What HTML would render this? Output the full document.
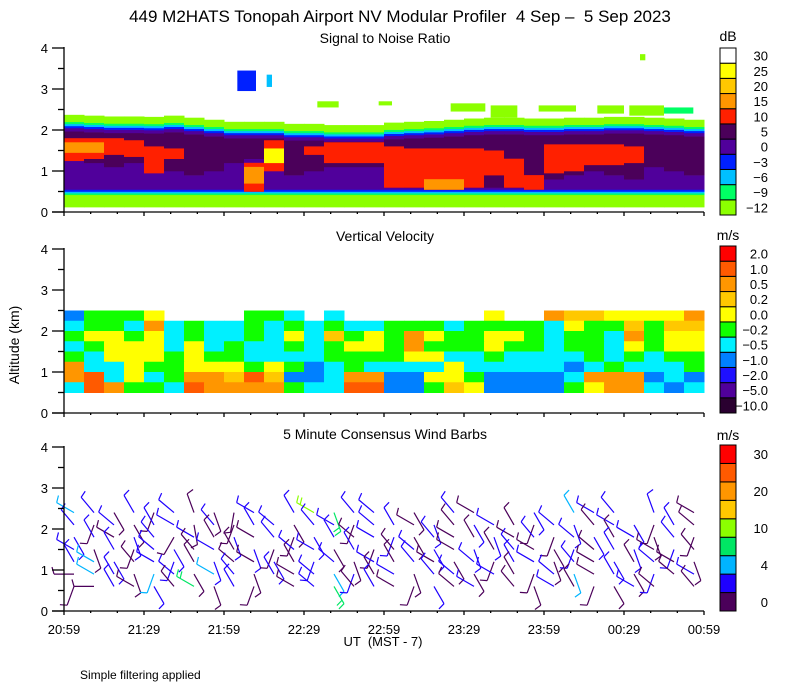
<!DOCTYPE html>
<html><head><meta charset="utf-8"><style>
html,body{margin:0;padding:0;background:#fff;width:800px;height:700px;overflow:hidden}
svg{display:block;font-family:"Liberation Sans",sans-serif}
</style></head><body>
<svg id="chart" width="800" height="700" viewBox="0 0 800 700">
<text x="400" y="22" text-anchor="middle" font-size="17" xml:space="preserve" style="white-space:pre">449 M2HATS Tonopah Airport NV Modular Profiler  4 Sep –  5 Sep 2023</text>
<text x="385" y="43" text-anchor="middle" font-size="14">Signal to Noise Ratio</text>
<text x="385" y="241" text-anchor="middle" font-size="14">Vertical Velocity</text>
<text x="385" y="439" text-anchor="middle" font-size="14">5 Minute Consensus Wind Barbs</text>
<text x="728" y="41" text-anchor="middle" font-size="14">dB</text>
<text x="728" y="240" text-anchor="middle" font-size="14">m/s</text>
<text x="728" y="440" text-anchor="middle" font-size="14">m/s</text>
<text transform="translate(19,345) rotate(-90)" text-anchor="middle" font-size="14">Altitude (km)</text>
<text x="383" y="646" text-anchor="middle" font-size="13" xml:space="preserve" style="white-space:pre">UT  (MST - 7)</text>
<text x="80" y="679" font-size="12">Simple filtering applied</text>
<g id="g"></g>
</svg>
<script>
// ---- data ----
const timeLabels=["20:59","21:29","21:59","22:29","22:59","23:29","23:59","00:29","00:59"];
const snrLevels=[-12,-9,-6,-3,0,5,10,15,20,25,30];
const snrColors=["#8cff00","#00ff64","#00c0ff","#0020ff","#50009b","#4b005a","#ff2000","#ff9600","#ffc800","#ffff00","#ffffff"];
const vvLevels=[-10,-5,-2,-1,-0.5,-0.2,0,0.2,0.5,1,2];
const vvLabels=["-10.0","-5.0","-2.0","-1.0","-0.5","-0.2","0.0","0.2","0.5","1.0","2.0"];
const vvColors=["#2a0030","#50009b","#1e10ff","#0080ff","#00f0ff","#10ff00","#ffff00","#ffc800","#ff9600","#ff5a00","#ff0000"];
const wsLevels=[0,2.5,4,7,10,14,20,25,30];
const wsColors=["#4b005a","#1e00ff","#00b4ff","#00e664","#8cff00","#ffc800","#ff9600","#ff5a00","#ff0000"];
// SNR per 7.5-min column
const snrEchoTop=[2.37,2.35,2.33,2.33,2.32,2.35,2.3,2.25,2.2,2.2,2.2,2.15,2.15,2.12,2.12,2.12,2.18,2.2,2.22,2.25,2.28,2.3,2.3,2.28,2.28,2.3,2.3,2.32,2.32,2.3,2.28,2.25];
const snrLowTop=[1.3,1.2,1.1,1.2,1.2,1.0,0.9,1.0,1.2,1.3,1.1,0.9,1.0,1.1,1.1,1.1,0.7,0.6,0.6,0.6,0.7,0.6,0.6,0.7,0.8,0.9,1.0,0.9,0.8,1.1,1.0,0.9];
const snrRedBot=[1.25,1.3,1.4,1.35,0.95,1.3,null,null,null,0.5,1.0,null,1.4,1.2,1.2,1.2,0.6,0.6,0.55,0.55,0.6,0.9,0.6,0.55,0.95,1.0,1.15,1.15,1.2,null,null,null];
const snrRedTop=[1.8,1.8,1.8,1.75,1.6,1.55,null,null,null,1.2,1.75,null,1.6,1.7,1.7,1.7,1.6,1.55,1.55,1.55,1.55,1.5,1.3,0.9,1.65,1.65,1.65,1.65,1.6,null,null,null];
const snrHotBot=[1.45,1.45,null,null,null,null,null,null,null,0.7,1.2,null,null,null,null,null,null,null,0.55,0.55,null,null,null,null,null,null,null,null,null,null,null,null];
const snrHotTop=[1.7,1.7,null,null,null,null,null,null,null,1.1,1.55,null,null,null,null,null,null,null,0.8,0.8,null,null,null,null,null,null,null,null,null,null,null,null];
const snrHotVal=[15,15,null,null,null,null,null,null,null,15,25,null,null,null,null,null,null,null,15,15,null,null,null,null,null,null,null,null,null,null,null,null];
// extra cloud patches: start min, end min, bottom km, top km, dB
const patchT0=[65,76,95,118,145,160,178,200,212,225,216];
const patchT1=[72,78,103,123,158,170,192,210,225,236,218];
const patchH0=[2.95,3.05,2.55,2.6,2.45,2.3,2.45,2.4,2.35,2.4,3.7];
const patchH1=[3.45,3.35,2.7,2.7,2.65,2.6,2.6,2.6,2.6,2.55,3.85];
const patchV=[-3,-6,-12,-12,-12,-12,-12,-12,-12,-9,-12];
// Vertical velocity grid: rows top (2.25-2.5 km) to bottom (0.5-0.75 km), 32 columns
const vvRow0=[-1,-0.2,-0.2,-0.2,0,null,null,null,null,-0.2,-0.2,-0.5,null,-0.5,null,null,null,null,null,null,null,0,null,null,0.5,0.2,0.2,0,0,0,0,0.5];
const vvRow1=[-0.5,-0.2,-0.2,-0.5,0.5,-0.5,-0.2,-0.5,-0.5,-0.2,-0.5,-0.2,-0.5,-0.2,-0.5,-0.5,-0.2,-0.2,-0.2,-0.5,-0.2,-0.2,-0.2,-0.2,-0.5,0,-0.2,-0.2,0.2,-0.2,0.2,0.2];
const vvRow2=[-0.2,0,0,-0.2,0,-0.5,-0.2,-0.5,-0.5,-0.2,-0.5,0,-0.5,0.2,-0.2,0,-0.2,0.5,0,-0.2,-0.2,0,0,-0.2,-0.5,-0.2,-0.2,-0.5,0.5,-0.2,0,0];
const vvRow3=[-0.5,-0.2,0,0,0,-0.5,0,-0.5,-0.2,-0.5,-0.5,-0.2,-0.5,-0.2,0,0,-0.2,0.5,-0.2,-0.2,-0.2,0,-0.2,-0.2,-0.5,-0.2,-0.2,-0.5,0,-0.2,0,0];
const vvRow4=[-0.2,-0.5,0,0,0,-0.2,0,-0.2,-0.2,-0.5,-0.5,-0.5,-0.5,-0.2,-0.2,-0.2,-0.2,0,0,-0.5,-0.5,-0.2,-0.5,-0.5,-0.5,-0.5,-0.2,-0.5,-0.2,-0.5,-0.2,-0.2];
const vvRow5=[0.5,-0.5,-0.5,0,-0.2,-0.2,0,0,0,-0.2,0,-0.2,-1,-0.5,-0.2,-0.5,-0.5,-0.5,-0.5,0,-0.5,-0.5,-0.5,-0.5,-0.5,-1,-0.5,-0.2,-0.5,-0.5,-0.5,-0.2];
const vvRow6=[0.5,1,-0.5,0,-0.5,-0.2,0.5,0.5,0.2,1,0.2,-1,-1,-0.5,0.5,0.5,-1,-1,0,0,-0.2,-1,-1,-1,-1,-0.5,0.5,0.5,0.5,-1,-0.5,-1];
const vvRow7=[-0.5,1,0.5,-0.2,-0.2,-0.5,1,0.5,0.5,0.5,0.5,-0.2,-0.5,-0.5,1,1,-1,-1,-0.2,0.2,0,-1,-1,-1,-1,-0.2,0,0.5,0.5,-0.5,-1,-0.5];
const vvRows=[vvRow0,vvRow1,vvRow2,vvRow3,vvRow4,vvRow5,vvRow6,vvRow7];
// Wind barbs: heights (km), direction (deg from) and speed per 7.5-min column
const windHeights=[2.4,2.1,1.8,1.5,1.2,0.9,0.6];
const wdir0=[300,320,150,330,200,310,340,160,190,300,null,330,300,160,320,310,null,150,null,320,300,null,null,150,null,330,300,320,null,340,null,300];
const wdir1=[320,200,310,150,330,300,170,320,200,330,310,150,320,300,200,310,330,300,160,320,150,300,330,200,310,160,320,300,150,200,330,310];
const wdir2=[150,330,300,160,320,210,300,330,160,300,320,200,150,330,310,300,200,150,320,300,330,160,300,320,200,310,150,330,300,160,320,200];
const wdir3=[300,160,330,200,310,150,320,300,330,160,200,310,300,150,330,200,320,310,150,300,160,330,320,300,150,200,310,330,160,300,200,320];
const wdir4=[330,300,150,320,300,200,330,160,310,300,150,330,200,310,160,300,330,320,300,150,310,200,330,300,160,320,300,150,330,310,300,160];
const wdir5=[270,300,330,160,200,310,150,300,320,160,330,300,310,150,200,330,300,160,320,310,150,300,330,200,310,160,300,330,150,200,310,300];
const wdir6=[200,270,330,300,150,320,300,160,330,200,null,300,310,150,320,330,300,200,150,310,300,null,320,160,300,330,200,150,300,310,null,320];
const wspd0=[5,3,2,3,2,3,2,2,2,3,null,3,11,9,3,3,null,2,null,3,2,null,null,3,null,6,3,3,null,3,null,2];
const wspd1=[3,2,3,2,3,3,2,3,2,3,3,2,3,3,2,3,3,2,3,2,3,3,2,2,3,3,2,3,3,2,3,2];
const wspd2=[3,3,2,3,3,2,3,2,3,2,3,2,3,3,2,3,3,2,3,2,2,3,2,3,2,3,3,2,3,2,3,2];
const wspd3=[3,2,3,2,3,3,2,3,2,3,2,3,3,2,3,2,2,3,3,2,3,2,3,2,2,3,2,3,3,2,3,2];
const wspd4=[3,5,3,2,3,3,2,3,2,2,3,2,3,3,2,3,2,3,2,2,3,2,3,3,2,3,2,3,2,3,2,2];
const wspd5=[2,5,3,2,5,3,2,6,3,2,3,2,3,5,3,2,3,2,3,3,2,3,2,2,3,5,2,3,2,3,2,3];
const wspd6=[2,2,3,2,3,2,9,2,3,2,null,2,3,7,2,3,2,2,3,2,3,null,2,2,3,2,2,2,3,2,null,2];
const wdirs=[wdir0,wdir1,wdir2,wdir3,wdir4,wdir5,wdir6];
const wspds=[wspd0,wspd1,wspd2,wspd3,wspd4,wspd5,wspd6];

// ---- layout ----
const X0=64,X1=704,TOT=240;
const panels=[{name:'snr',y0:212},{name:'vv',y0:413},{name:'wind',y0:611}];
const KM=41;
const xs=m=>X0+m*(X1-X0)/TOT;
const colW=7.5;
const g=document.getElementById('g');
const NS='http://www.w3.org/2000/svg';
function mk(tag,attrs,parent){const e=document.createElementNS(NS,tag);for(const k in attrs)e.setAttribute(k,attrs[k]);(parent||g).appendChild(e);return e;}
function cls(levels,v){let i=0;for(let k=0;k<levels.length;k++)if(v>=levels[k])i=k;return i;}

// SNR panel
const snrY=h=>212-h*KM;
const gs=mk('g',{});


function band(parent,c,h0,h1,color,name){if(h1<=h0)return;const r=mk('rect',{x:xs(c*colW),y:snrY(h1),width:xs((c+1)*colW)-xs(c*colW)+0.5,height:(h1-h0)*KM+0.3,fill:color},parent);}
for(let c=0;c<32;c++){
  const top=snrEchoTop[c],off=top-2.35;
  const layers=[[0.12,0.42,-12],[0.42,0.46,-9],[0.46,0.5,-6],[0.5,0.55,-3],[0.55,snrLowTop[c],0],[snrLowTop[c],1.95+off,5],[1.95+off,2.03+off,0],[2.03+off,2.08+off,-3],[2.08+off,2.13+off,-6],[2.13+off,2.18+off,-9],[2.18+off,top,-12]];
  layers.forEach(l=>band(gs,c,l[0],l[1],snrColors[cls(snrLevels,l[2])],'snr-layer'));
  if(snrRedBot[c]!=null)band(gs,c,snrRedBot[c],snrRedTop[c],snrColors[cls(snrLevels,10)],'snr-echo-layer');
  if(snrHotBot[c]!=null)band(gs,c,snrHotBot[c],snrHotTop[c],snrColors[cls(snrLevels,snrHotVal[c])],'snr-echo-core');
}
for(let i=0;i<patchT0.length;i++){
  const r=mk('rect',{x:xs(patchT0[i]),y:snrY(patchH1[i]),width:xs(patchT1[i])-xs(patchT0[i]),height:(patchH1[i]-patchH0[i])*KM,fill:snrColors[cls(snrLevels,patchV[i])]},gs);
  
  
}
// VV panel
const vvY=h=>413-h*KM;
const gv=mk('g',{});


for(let r=0;r<vvRows.length;r++){
  const hTop=2.5-r*0.25;
  for(let c=0;c<32;c++){const v=vvRows[r][c];if(v==null)continue;
    const e=mk('rect',{x:xs(c*colW),y:vvY(hTop),width:xs((c+1)*colW)-xs(c*colW)+0.5,height:0.25*KM+0.5,fill:vvColors[cls(vvLevels,v)]},gv);
    
    
  }
}
// Wind barbs
const wY=h=>611-h*KM;
const gw=mk('g',{});


for(let r=0;r<windHeights.length;r++){
  for(let c=0;c<32;c++){const d=wdirs[r][c],s=wspds[r][c];if(d==null)continue;
    const x=xs(c*colW+colW/2),y=wY(windHeights[r]);
    const a=d*Math.PI/180,L=20;
    const dx=Math.sin(a),dy=-Math.cos(a);
    const x2=x+dx*L,y2=y+dy*L;
    const col=wsColors[cls(wsLevels,s)];
    const b=mk('g',{stroke:col,'stroke-width':1.2,fill:'none'},gw);
    
    
    mk('line',{x1:x,y1:y,x2:x2,y2:y2},b);
    if(s<1.5){mk('rect',{x:x-2,y:y-2,width:4,height:4},b);}
    const nb=s>=7?2:(s>=2?1:0);
    for(let k=0;k<nb;k++){const bx=x+dx*(L-k*4),by=y+dy*(L-k*4);
      const px=-dy,py=dx;
      mk('line',{x1:bx,y1:by,x2:bx+px*7+dx*2,y2:by+py*7+dy*2},b);}
  }
}
// axes
panels.forEach(p=>{
  const ax=mk('g',{stroke:'#000','stroke-width':1.3});
  
  
  mk('line',{x1:X0,y1:p.y0-4*KM-1,x2:X0,y2:p.y0},ax);
  mk('line',{x1:X0-12,y1:p.y0,x2:X1,y2:p.y0},ax);
  for(let k=0;k<=8;k++){const y=p.y0-k*0.5*KM;mk('line',{x1:X0-(k%2?6:12),y1:y,x2:X0,y2:y},ax);}
  for(let m=0;m<=TOT;m+=10){const x=xs(m);mk('line',{x1:x,y1:p.y0,x2:x,y2:p.y0+(m%30?2:4)},ax);}
  for(let k=0;k<=4;k++){const t=mk('text',{x:48,y:p.y0-k*KM+5,'text-anchor':'end','font-size':13,stroke:'none'},ax);t.textContent=k;
    
    }
});
timeLabels.forEach((l,i)=>{const t=mk('text',{x:xs(i*30),y:634,'text-anchor':'middle','font-size':13});t.textContent=l;
  
  });
// colorbars
function cbar(name,colors,labels,y0,y1){
  const gb=mk('g',{});
  
  
  const n=colors.length,h=(y1-y0)/n;
  for(let i=0;i<n;i++){const y=y1-(i+1)*h;
    mk('rect',{x:720,y:y,width:16,height:h,fill:colors[i],stroke:'#000','stroke-width':1},gb);
    if(labels[i]!=null){const t=mk('text',{x:768,y:y+h/2+5,'text-anchor':'end','font-size':13},gb);t.textContent=labels[i].replace('-','−');
      
      }
  }
}
cbar('snr-colorbar',snrColors,snrLevels.map(String),48,215);
cbar('vv-colorbar',vvColors,vvLabels,246,413);
cbar('wind-colorbar',wsColors,["0",null,"4",null,"10",null,"20",null,"30"],445,611);
</script>
</body></html>
